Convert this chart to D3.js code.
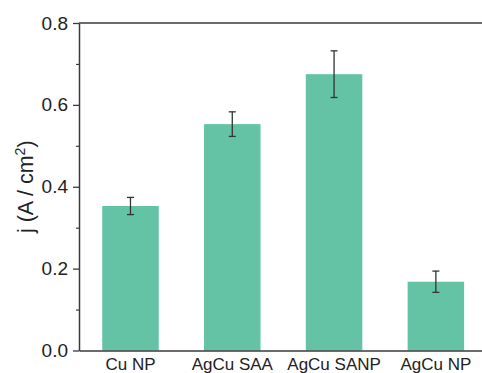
<!DOCTYPE html>
<html>
<head>
<meta charset="utf-8">
<script src="https://cdn.jsdelivr.net/npm/d3@7"></script>
<style>
  html, body { margin: 0; padding: 0; background: #fff; }
  svg { display: block; font-family: "Liberation Sans", Arial, sans-serif; }
</style>
</head>
<body>
<svg id="chart" width="482" height="373"></svg>
<script>
// Current density per catalyst, with error bars
const categories = ["Cu NP", "AgCu SAA", "AgCu SANP", "AgCu NP"];
const values = [0.353, 0.553, 0.675, 0.168];
const errors = [0.021, 0.030, 0.057, 0.026];
const yTicks = [0.0, 0.2, 0.4, 0.6, 0.8];
const yMinorTicks = [0.1, 0.3, 0.5, 0.7];

const plotLeft = 79, plotRight = 482, plotTop = 23, plotBottom = 350.5;
const axisColor = "#3a3a3a";
const barColor = "#64c3a5";

const svg = d3.select("#chart");

const x = d3.scaleBand()
  .domain(categories)
  .range([plotLeft, plotRight])
  .paddingInner(0.445)
  .paddingOuter(0.202)
  .align(0.565);

const y = d3.scaleLinear().domain([0, 0.8]).range([plotBottom, plotTop]);

const data = categories.map((c, i) => ({ c, v: values[i], e: errors[i] }));

// Bars
svg.append("g")
  .selectAll("rect")
  .data(data)
  .join("rect")
  .attr("x", d => x(d.c))
  .attr("width", x.bandwidth())
  .attr("y", d => y(d.v))
  .attr("height", d => y(0) - y(d.v))
  .attr("fill", barColor);

// Error bars
const eb = svg.append("g")
  .attr("stroke", "#333")
  .attr("stroke-width", 1.3)
  .selectAll("g")
  .data(data)
  .join("g")
  .attr("transform", d => `translate(${x(d.c) + x.bandwidth() / 2},0)`);
eb.append("line")
  .attr("y1", d => y(d.v + d.e))
  .attr("y2", d => y(d.v - d.e));
eb.append("line")
  .attr("x1", -3.5).attr("x2", 3.5)
  .attr("y1", d => y(d.v + d.e)).attr("y2", d => y(d.v + d.e));
eb.append("line")
  .attr("x1", -3.5).attr("x2", 3.5)
  .attr("y1", d => y(d.v - d.e)).attr("y2", d => y(d.v - d.e));

// Y axis with major and minor ticks
const yAxis = svg.append("g")
  .attr("transform", `translate(${plotLeft},0)`)
  .call(d3.axisLeft(y).tickValues(yTicks).tickFormat(d3.format(".1f"))
    .tickSize(6).tickSizeOuter(0).tickPadding(5));
yAxis.select(".domain").attr("stroke", axisColor).attr("stroke-width", 1.5);
yAxis.selectAll(".tick line").attr("stroke", axisColor).attr("stroke-width", 1.3);
yAxis.selectAll(".tick text")
  .attr("fill", "#222")
  .style("font-size", "19px")
  .style("font-family", "'Liberation Sans', Arial, sans-serif");

svg.append("g")
  .attr("transform", `translate(${plotLeft},0)`)
  .call(d3.axisLeft(y).tickValues(yMinorTicks).tickSize(3).tickFormat(""))
  .call(g => g.select(".domain").remove())
  .selectAll(".tick line").attr("stroke", axisColor).attr("stroke-width", 1.2);

// Bottom axis with category labels, no tick marks
const xAxis = svg.append("g")
  .attr("transform", `translate(0,${plotBottom})`)
  .call(d3.axisBottom(x).tickSize(0).tickSizeOuter(0).tickPadding(7.5));
xAxis.select(".domain").attr("stroke", axisColor).attr("stroke-width", 1.5);
xAxis.selectAll(".tick text")
  .attr("fill", "#222")
  .attr("dy", "0.71em")
  .style("font-size", "17px")
  .style("font-family", "'Liberation Sans', Arial, sans-serif");

// Top frame line
svg.append("line")
  .attr("x1", plotLeft).attr("x2", plotRight)
  .attr("y1", plotTop).attr("y2", plotTop)
  .attr("stroke", axisColor).attr("stroke-width", 1.5);

// Y axis title
const yTitle = svg.append("text")
  .attr("transform", `translate(33,${(plotTop + plotBottom) / 2}) rotate(-90)`)
  .attr("text-anchor", "middle")
  .attr("fill", "#222")
  .style("font-size", "21.5px");
yTitle.append("tspan").text("j (A / cm");
yTitle.append("tspan").attr("baseline-shift", "super").style("font-size", "14px").text("2");
yTitle.append("tspan").text(")");
</script>
</body>
</html>
